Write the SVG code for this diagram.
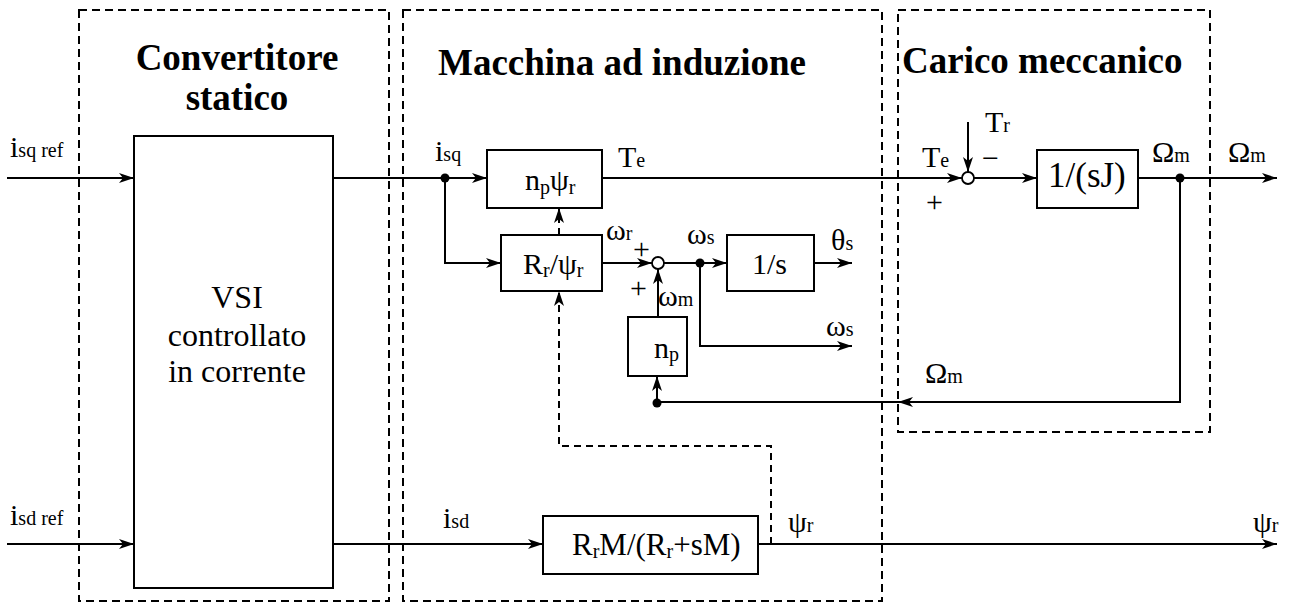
<svg xmlns="http://www.w3.org/2000/svg" width="1295" height="603" viewBox="0 0 1295 603">
<style>
text{font-family:"Liberation Serif","Times New Roman",serif;fill:#000}
.t{font-size:37px;font-weight:bold}
.l{font-size:30px}
.s{font-size:20px}
.box{fill:#fff;stroke:#000;stroke-width:2}
.grp{fill:none;stroke:#000;stroke-width:2;stroke-dasharray:8 5}
.c{fill:none;stroke:#000;stroke-width:2}
.d{fill:none;stroke:#000;stroke-width:2;stroke-dasharray:7 5}
.dot{fill:#000}
.sum{fill:#fff;stroke:#000;stroke-width:1.8}
</style>
<defs>
<marker id="a" markerUnits="userSpaceOnUse" markerWidth="16" markerHeight="12" refX="15" refY="6" orient="auto">
<path d="M0,1 L15,6 L0,11 L4,6 z" fill="#000"/>
</marker>
</defs>

<g id="groups">
<rect class="grp" x="79" y="10" width="310" height="591"/>
<rect class="grp" x="403" y="10" width="479" height="591"/>
<rect class="grp" x="898" y="10" width="312" height="422"/>
<text class="t" x="237" y="70" text-anchor="middle">Convertitore</text>
<text class="t" x="237" y="110" text-anchor="middle">statico</text>
<text class="t" x="438" y="75">Macchina ad induzione</text>
<text class="t" x="902" y="73">Carico meccanico</text>
</g>

<g id="connectors">
<path class="c" d="M7,178 H134" marker-end="url(#a)"/>
<path class="c" d="M7,544 H134" marker-end="url(#a)"/>
<path class="c" d="M333,178 H487" marker-end="url(#a)"/>
<path class="c" d="M445,178 V263 H501" marker-end="url(#a)"/>
<path class="c" d="M602,178 H962" marker-end="url(#a)"/>
<path class="c" d="M968,122 V172" marker-end="url(#a)"/>
<path class="c" d="M974,178 H1037" marker-end="url(#a)"/>
<path class="c" d="M1138,178 H1277" marker-end="url(#a)"/>
<path class="c" d="M1180,178 V402 H898" marker-end="url(#a)"/>
<path class="c" d="M898,402 H657"/>
<path class="c" d="M657,402 V376" marker-end="url(#a)"/>
<path class="c" d="M658,317 V269" marker-end="url(#a)"/>
<path class="c" d="M602,263 H652" marker-end="url(#a)"/>
<path class="c" d="M664,263 H727" marker-end="url(#a)"/>
<path class="c" d="M814,263 H852" marker-end="url(#a)"/>
<path class="c" d="M700,263 V346 H852" marker-end="url(#a)"/>
<path class="d" d="M559,235 V208" marker-end="url(#a)"/>
<path class="d" d="M771,544 V446 H559 V291" marker-end="url(#a)"/>
<path class="c" d="M333,544 H543" marker-end="url(#a)"/>
<path class="c" d="M758,544 H1277" marker-end="url(#a)"/>
<circle class="dot" cx="445" cy="178" r="4.5"/>
<circle class="dot" cx="1180" cy="178" r="4.5"/>
<circle class="dot" cx="700" cy="263" r="4.5"/>
<circle class="dot" cx="657" cy="403" r="4.5"/>
</g>

<g id="vsi">
<rect class="box" x="134" y="136" width="199" height="452"/>
<text class="l" x="237" y="308" text-anchor="middle" style="font-size:32px">VSI</text>
<text class="l" x="237" y="346" text-anchor="middle" style="font-size:32px">controllato</text>
<text class="l" x="237" y="382" text-anchor="middle" style="font-size:32px">in corrente</text>
</g>

<g id="np_psi">
<rect class="box" x="487" y="150" width="115" height="58"/>
<text class="l" x="525" y="190">n<tspan class="s" dy="4">p</tspan><tspan dy="-4">ψ</tspan><tspan class="s" dy="4">r</tspan></text>
</g>

<g id="rr_psi">
<rect class="box" x="501" y="235" width="101" height="56"/>
<text class="l" x="523" y="274">R<tspan class="s" dy="3">r</tspan><tspan dy="-3">/ψ</tspan><tspan class="s" dy="3">r</tspan></text>
</g>

<g id="sum_w">
<circle class="sum" cx="658" cy="263" r="6"/>
</g>

<g id="int_s">
<rect class="box" x="727" y="235" width="87" height="56"/>
<text class="l" x="752" y="274">1/s</text>
</g>

<g id="np">
<rect class="box" x="628" y="317" width="59" height="59"/>
<text class="l" x="654" y="358">n<tspan class="s" dy="3">p</tspan></text>
</g>

<g id="flux">
<rect class="box" x="543" y="516" width="215" height="58"/>
<text class="l" x="572" y="555" style="font-size:31px">R<tspan class="s" dy="3">r</tspan><tspan dy="-3">M/(R</tspan><tspan class="s" dy="3">r</tspan><tspan dy="-3">+sM)</tspan></text>
</g>

<g id="sum_t">
<circle class="sum" cx="968" cy="178" r="6"/>
</g>

<g id="inertia">
<rect class="box" x="1037" y="150" width="101" height="58"/>
<text class="l" x="1048" y="187" style="font-size:35px">1/(sJ)</text>
</g>

<g id="labels">
<text class="l" x="10" y="157">i<tspan class="s">sq ref</tspan></text>
<text class="l" x="10" y="525">i<tspan class="s">sd ref</tspan></text>
<text class="l" x="435" y="161">i<tspan class="s">sq</tspan></text>
<text class="l" x="443" y="528">i<tspan class="s">sd</tspan></text>
<text class="l" x="618" y="167">T<tspan class="s">e</tspan></text>
<text class="l" x="922" y="167">T<tspan class="s">e</tspan></text>
<text class="l" x="926" y="212">+</text>
<text class="l" x="985" y="132">T<tspan class="s">r</tspan></text>
<text class="l" x="982" y="168">−</text>
<text class="l" x="1152" y="162">Ω<tspan class="s">m</tspan></text>
<text class="l" x="1228" y="162">Ω<tspan class="s">m</tspan></text>
<text class="l" x="925" y="383">Ω<tspan class="s">m</tspan></text>
<text class="l" x="606" y="240">ω<tspan class="s">r</tspan></text>
<text class="l" x="633" y="259">+</text>
<text class="l" x="630" y="298">+</text>
<text class="l" x="658" y="306">ω<tspan class="s">m</tspan></text>
<text class="l" x="687" y="244">ω<tspan class="s">s</tspan></text>
<text class="l" x="831" y="250">θ<tspan class="s">s</tspan></text>
<text class="l" x="826" y="336">ω<tspan class="s">s</tspan></text>
<text class="l" x="788" y="532">ψ<tspan class="s">r</tspan></text>
<text class="l" x="1253" y="532">ψ<tspan class="s">r</tspan></text>
</g>
</svg>
